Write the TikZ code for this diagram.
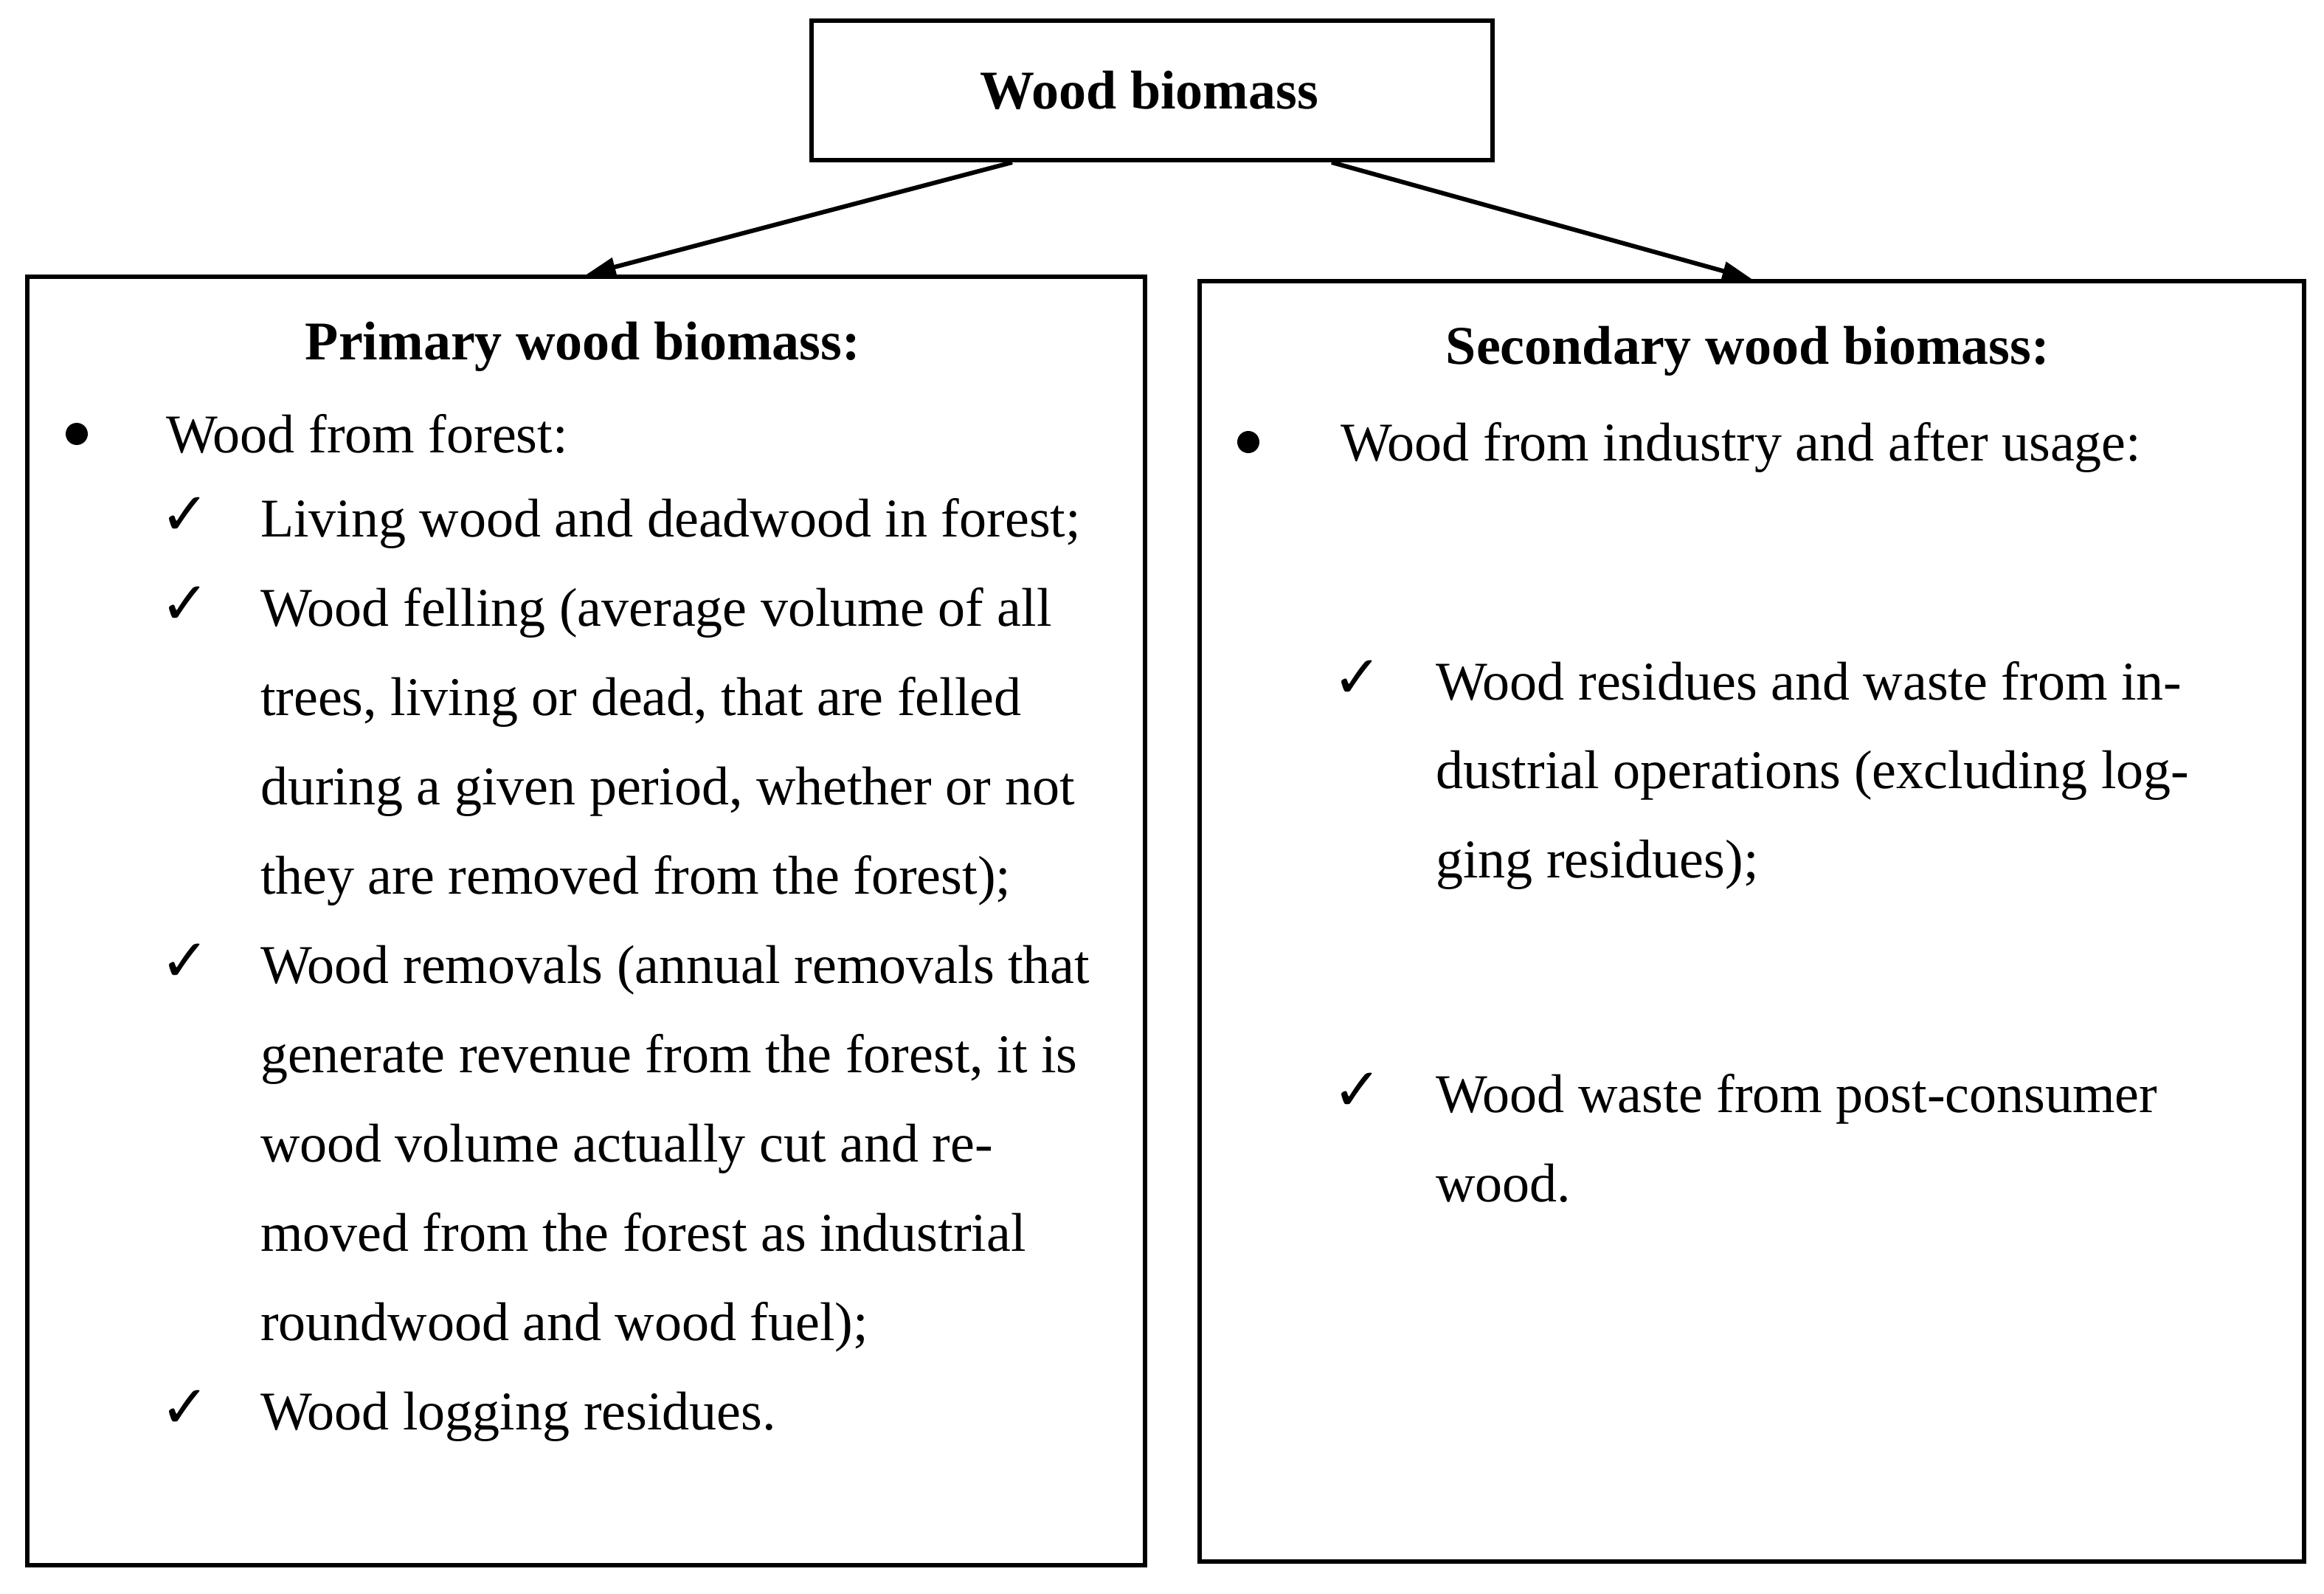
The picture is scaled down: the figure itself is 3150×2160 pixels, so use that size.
\documentclass[tikz,border=0pt]{standalone}
\usepackage{fontspec}
\setmainfont{Liberation Serif}
\newfontfamily\symfont{DejaVu Sans}
\usetikzlibrary{arrows.meta,calc}
\begin{document}
\begin{tikzpicture}[x=0.2pt,y=-0.2pt,
  box/.style={draw, line width=1.2pt, inner sep=0pt, anchor=north west},
  txt/.style={anchor=base west, inner sep=0pt, font=\fontsize{14.8}{17}\selectfont},
  ttl/.style={anchor=base, inner sep=0pt, font=\fontsize{14.8}{17}\selectfont\bfseries},
  chk/.style={anchor=base west, inner sep=0pt, font=\symfont\fontsize{16}{18}\selectfont},
  bul/.style={circle, fill, inner sep=0pt, minimum size=6pt},
  arr/.style={line width=1.2pt, -{Triangle[length=8pt,width=5pt]}}]
\useasboundingbox (0,0) rectangle (3150,2160);
\fill[white] (0,0) rectangle (3150,2160);
% boxes
\node[box, minimum width=184.6pt, minimum height=37.8pt] (top) at (1097,25) {};
\node[box, minimum width=303pt, minimum height=349.2pt] (left) at (34,372) {};
\node[box, minimum width=299.4pt, minimum height=347pt] (right) at (1623,378) {};
% arrows
\draw[arr] ($(top.south west)!0.296!(top.south east)$) -- (left.north);
\draw[arr] ($(top.south west)!0.762!(top.south east)$) -- (right.north);
% titles
\node[ttl] (t0) at (1558,147) {Wood biomass};
\node[ttl] (t1) at (790,487) {Primary wood biomass:};
\node[ttl] (t2) at (2369,493) {Secondary wood biomass:};
% left content
\node[bul] (lb) at (104,588) {};
\node[txt] (l0) at (224,613) {Wood from forest:};
\node[chk] (lc1) at (216,724) {✓};
\node[txt] (l1) at (352,727) {Living wood and deadwood in forest;};
\node[chk] (lc2) at (216,845) {✓};
\node[txt] (l2) at (352,848) {Wood felling (average volume of all};
\node[txt] (l3) at (352,969) {trees, living or dead, that are felled};
\node[txt] (l4) at (352,1090) {during a given period, whether or not};
\node[txt] (l5) at (352,1211) {they are removed from the forest);};
\node[chk] (lc3) at (216,1329) {✓};
\node[txt] (l6) at (352,1332) {Wood removals (annual removals that};
\node[txt] (l7) at (352,1453) {generate revenue from the forest, it is};
\node[txt] (l8) at (352,1574) {wood volume actually cut and re-};
\node[txt] (l9) at (352,1695) {moved from the forest as industrial};
\node[txt] (l10) at (352,1816) {roundwood and wood fuel);};
\node[chk] (lc4) at (216,1934) {✓};
\node[txt] (l11) at (352,1937) {Wood logging residues.};
% right content
\node[bul] (rb) at (1692,599) {};
\node[txt] (r0) at (1816,624) {Wood from industry and after usage:};
\node[chk] (rc1) at (1805,945) {✓};
\node[txt] (r1) at (1945,948) {Wood residues and waste from in-};
\node[txt] (r2) at (1945,1068) {dustrial operations (excluding log-};
\node[txt] (r3) at (1945,1189) {ging residues);};
\node[chk] (rc2) at (1805,1504) {✓};
\node[txt] (r4) at (1945,1507) {Wood waste from post-consumer};
\node[txt] (r5) at (1945,1628) {wood.};
\end{tikzpicture}
\end{document}
